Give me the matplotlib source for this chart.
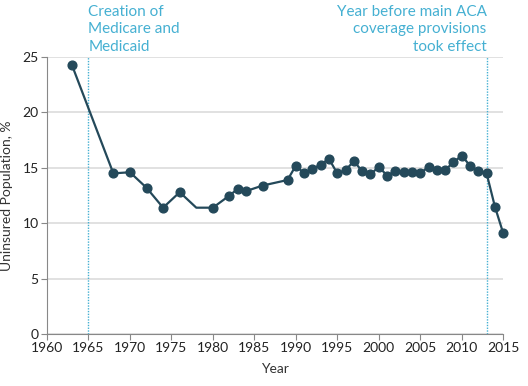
import numpy as np
import matplotlib
matplotlib.use("Agg")
import matplotlib.pyplot as plt

# uninsured population by year
years = [1963, 1968, 1970, 1972, 1974, 1976, 1978, 1980, 1982, 1983, 1984, 1986,
         1989, 1990, 1991, 1992, 1993, 1994, 1995, 1996, 1997, 1998, 1999, 2000,
         2001, 2002, 2003, 2004, 2005, 2006, 2007, 2008, 2009, 2010, 2011, 2012,
         2013, 2014, 2015]
uninsured = [24.3, 14.5, 14.6, 13.2, 11.4, 12.8, 11.4, 11.4, 12.5, 13.1, 12.9, 13.4,
             13.9, 15.2, 14.5, 14.9, 15.3, 15.8, 14.5, 14.8, 15.6, 14.7, 14.4, 15.1,
             14.3, 14.7, 14.6, 14.6, 14.5, 15.1, 14.8, 14.8, 15.5, 16.1, 15.2, 14.7,
             14.5, 11.5, 9.1]
# 1978 is a line vertex only, no marker drawn
no_marker_years = [1978]

event_years = [1965, 2013]
event_labels = ["Creation of\nMedicare and\nMedicaid",
                "Year before main ACA\ncoverage provisions\ntook effect"]

line_col = "#24495a"
note_col = "#45b0d2"
plt.rcParams['font.family'] = ['Lato', 'DejaVu Sans']

fig = plt.figure(figsize=(5.28, 3.86), dpi=100)
ax = fig.add_axes([0.089, 0.135, 0.864, 0.717])

ax.plot(years, uninsured, color=line_col, lw=1.6, zorder=3, clip_on=False)
mk = [i for i, y in enumerate(years) if y not in no_marker_years]
ax.plot([years[i] for i in mk], [uninsured[i] for i in mk], 'o', color=line_col,
        ms=6.3, zorder=4, clip_on=False)

for yr in event_years:
    ax.axvline(yr, color=note_col, ls=(0, (1, 1)), lw=1.0, zorder=2)

ax.text(event_years[0], 1.19, event_labels[0], transform=ax.get_xaxis_transform(),
        ha='left', va='top', color=note_col, fontsize=11, linespacing=1.32)
ax.text(event_years[1], 1.19, event_labels[1], transform=ax.get_xaxis_transform(),
        ha='right', va='top', color=note_col, fontsize=11, linespacing=1.32)

ax.set_xlim(1960, 2015)
ax.set_ylim(0, 25)
ax.set_xticks(np.arange(1960, 2016, 5))
ax.set_yticks(np.arange(0, 26, 5))
ax.yaxis.grid(True, color="#dedede", lw=1.3)
ax.set_axisbelow(True)
for s in ['top', 'right']:
    ax.spines[s].set_visible(False)
for s in ['left', 'bottom']:
    ax.spines[s].set_color("#888888")
ax.tick_params(axis='both', colors="#888888", labelcolor="#222222", labelsize=10,
               length=4, pad=2)
ax.set_xlabel("Year", fontsize=10, color="#333333", labelpad=6)
ax.set_ylabel("Uninsured Population, %", fontsize=10, color="#333333", labelpad=7)

fig.savefig("out.png", dpi=100)
